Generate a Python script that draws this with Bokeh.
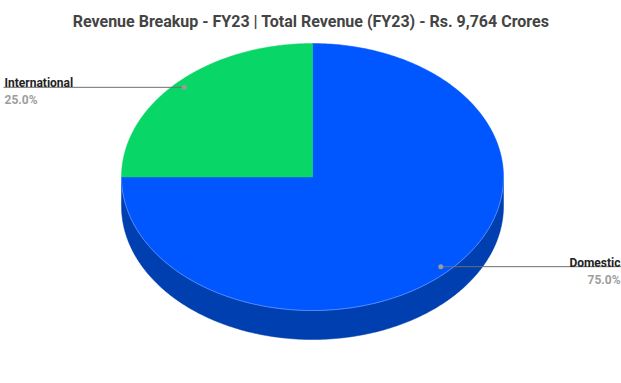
import numpy as np
from bokeh.plotting import figure
from bokeh.models import Range1d
from bokeh.core.properties import value
from bokeh.embed import file_html
from bokeh.resources import INLINE

# ---- data ----
title_text = "Revenue Breakup - FY23 | Total Revenue (FY23) - Rs. 9,764 Crores"
categories = ["Domestic", "International"]
values = [75.0, 25.0]
top_colors = ["#0057ff", "#08d767"]
side_colors = ["#003fb0", "#069a4a"]

W, H = 621, 383
cx, cy, rx, ry, depth = 312.0, 176.5, 191.0, 133.5, 29.0

p = figure(width=W, height=H, output_backend="svg", toolbar_location=None,
           x_range=Range1d(0, W), y_range=Range1d(H, 0), min_border=0)
p.axis.visible = False
p.grid.visible = False
p.outline_line_color = None
p.background_fill_color = "white"
p.border_fill_color = "white"

total = float(sum(values))
fracs = [v / total for v in values]
starts = []
a = -np.pi / 2
for f in fracs:
    starts.append(a)
    a += f * 2 * np.pi

# side walls (front half only: t in [0, pi])
for f, s, col in zip(fracs, starts, side_colors):
    e = s + f * 2 * np.pi
    for k in (-2, 0, 2):
        lo = max(s, 0 + k * np.pi)
        hi = min(e, np.pi + k * np.pi)
        if hi > lo:
            t = np.linspace(lo, hi, 200)
            xs = list(cx + rx * np.cos(t)) + list(cx + rx * np.cos(t[::-1]))
            ys = list(cy + ry * np.sin(t)) + list(cy + depth + ry * np.sin(t[::-1]))
            p.patch(xs, ys, fill_color=col, line_color=col, line_width=0.5)

# top faces
for f, s, col in zip(fracs, starts, top_colors):
    e = s + f * 2 * np.pi
    t = np.linspace(s, e, 300)
    xs = [cx] + list(cx + rx * np.cos(t)) + [cx]
    ys = [cy] + list(cy + ry * np.sin(t)) + [cy]
    p.patch(xs, ys, fill_color=col, line_color=col, line_width=0.5)

# subtle highlight edge along the front rim
t = np.linspace(0, np.pi, 200)
p.line(cx + rx * np.cos(t), cy + ry * np.sin(t), line_color="#6c9cff", line_width=1, line_alpha=0.7)

# leader lines and labels
for cat, f, s, v in zip(categories, fracs, starts, values):
    mid = s + f * np.pi
    dx = cx + 0.95 * rx * np.cos(mid)
    dy = cy + 0.95 * ry * np.sin(mid)
    if np.cos(mid) < 0:
        x_end, tx, align = 3, 4, "left"
    else:
        x_end, tx, align = 621, 620, "right"
    p.line([dx, x_end], [dy, dy], line_color="#6e6e6e", line_width=1)
    p.scatter([dx], [dy], size=5, fill_color="#9a9a9a", line_color=None)
    p.text([tx], [dy - 4], text=[cat], text_font=value("Roboto"), text_font_style="bold",
           text_font_size="12px", text_color="#222222", text_align=align, text_baseline="alphabetic")
    p.text([tx], [dy + 13], text=["%.1f%%" % v], text_font=value("Roboto"), text_font_style="bold",
           text_font_size="12px", text_color="#9e9e9e", text_align=align, text_baseline="alphabetic")

p.text([310.5], [21], text=[title_text], text_font=value("Roboto"), text_font_style="bold",
       text_font_size="16px", text_color="#444444", text_align="center", text_baseline="middle")

open("out.html", "w").write(file_html(p, INLINE))
